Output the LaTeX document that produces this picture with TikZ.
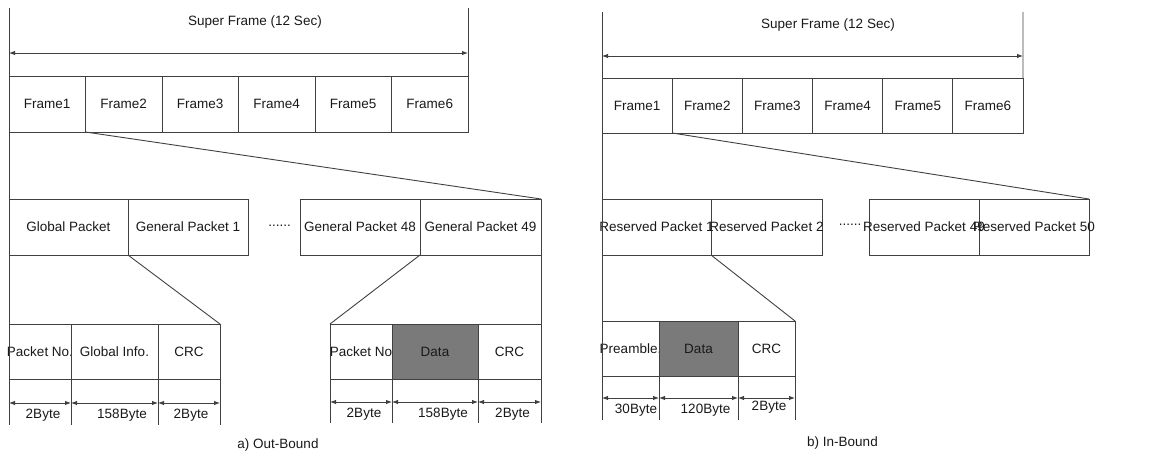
\documentclass[tikz,border=0pt]{standalone}
\usepackage{fontspec}
\setmainfont{Liberation Sans}
\usetikzlibrary{arrows.meta,calc}
\begin{document}
\begin{tikzpicture}[x=1pt,y=-1pt,
  ln/.style={draw=black!75, line width=0.9pt},
  cell/.style={ln, rectangle, inner sep=0pt, outer sep=0pt, font=\fontsize{13.5}{16}\selectfont, text=black!90},
  lbl/.style={inner sep=0pt, font=\fontsize{13.5}{16}\selectfont, text=black!90},
  dim/.style={ln, {Latex[length=6pt,width=4.5pt]}-{Latex[length=6pt,width=4.5pt]}},
  shaded/.style={fill=black!52}]
\useasboundingbox (0,0) rectangle (1149,452);

% ================= a) Out-Bound =================
\node[lbl] (sfa) at (255,22) {Super Frame (12 Sec)};
\foreach \i [evaluate=\i as \cx using {9+76.5*(\i-0.5)}] in {1,...,6}
  \node[cell, minimum width=76.5pt, minimum height=56pt] (fa\i) at (\cx,104) {Frame\i};
\coordinate (atl) at (9,8);
\coordinate (atr) at (468,8);
\draw[ln] (atr) -- (fa6.north east);
\draw[dim] ($(atl)+(0,45)$) -- ($(atr)+(0,45)$);

\node[cell, minimum width=119pt, minimum height=56pt] (gp) at (68.5,227) {Global Packet};
\node[cell, minimum width=120pt, minimum height=56pt] (gp1) at (188,227) {General Packet 1};
\node[lbl, anchor=base] (dotsa) at (279.5,226) {......};
\node[cell, minimum width=120pt, minimum height=56pt] (gp48) at (360,227) {\makebox[0pt]{General Packet 48}};
\node[cell, minimum width=121pt, minimum height=56pt] (gp49) at (480.5,227) {\makebox[0pt]{General Packet 49}};
\draw[ln] (fa2.south west) -- (gp49.north east);

\node[cell, minimum width=62pt, minimum height=55pt] (pna) at (40,351.5) {\makebox[0pt]{Packet No.}};
\node[cell, minimum width=87pt, minimum height=55pt] (gia) at (114.5,351.5) {Global Info.};
\node[cell, minimum width=62pt, minimum height=55pt] (crca) at (189,351.5) {CRC};
\coordinate (abot) at (9,425);
\draw[ln] (atl) -- (abot);
\draw[ln] (gp1.south west) -- (crca.north east);
\foreach \n in {pna,gia,crca} \draw[ln] (\n.south east) -- ++(0,46);
\draw[dim] ($(pna.south west)+(0,24)$) -- ($(pna.south east)+(0,24)$);
\draw[dim] ($(gia.south west)+(0,24)$) -- ($(gia.south east)+(0,24)$);
\draw[dim] ($(crca.south west)+(0,24)$) -- ($(crca.south east)+(0,24)$);
\node[lbl] (da1) at (43,415) {2Byte};
\node[lbl] (da2) at (122,415) {158Byte};
\node[lbl] (da3) at (191,415) {2Byte};

\node[cell, minimum width=62pt, minimum height=55pt] (pnb) at (361,351.5) {\makebox[0pt]{Packet No}};
\node[cell, shaded, minimum width=86pt, minimum height=55pt] (dab) at (435,351.5) {Data};
\node[cell, minimum width=63pt, minimum height=55pt] (crcb) at (509.5,351.5) {CRC};
\draw[ln] (gp48.south east) -- (pnb.north west);
\draw[ln] (gp49.south east) -- (crcb.north east);
\foreach \n in {pnb,dab,crcb} \draw[ln] (\n.south east) -- ++(0,44);
\draw[ln] (pnb.south west) -- ++(0,44);
\draw[dim] ($(pnb.south west)+(0,23)$) -- ($(pnb.south east)+(0,23)$);
\draw[dim] ($(dab.south west)+(0,23)$) -- ($(dab.south east)+(0,23)$);
\draw[dim] ($(crcb.south west)+(0,23)$) -- ($(crcb.south east)+(0,23)$);
\node[lbl] (db1) at (364,414) {2Byte};
\node[lbl] (db2) at (443,414) {158Byte};
\node[lbl] (db3) at (512.5,414) {2Byte};

\node[lbl, anchor=base] (capa) at (278,448) {a) Out-Bound};

% ================= b) In-Bound =================
\node[lbl] (sfb) at (828,25) {Super Frame (12 Sec)};
\foreach \i [evaluate=\i as \cx using {602+70.1667*(\i-0.5)}] in {1,...,6}
  \node[cell, minimum width=70.1667pt, minimum height=55pt] (fb\i) at (\cx,105.5) {Frame\i};
\coordinate (btl) at (602,12);
\coordinate (btr) at (1023,12);
\draw[ln] (btr) -- (fb6.north east);
\draw[dim] ($(btl)+(0,44)$) -- ($(btr)+(0,44)$);

\node[cell, minimum width=109pt, minimum height=56pt] (rp1) at (656.5,227) {\makebox[0pt]{Reserved Packet 1}};
\node[cell, minimum width=111pt, minimum height=56pt] (rp2) at (766.5,227) {\makebox[0pt]{Reserved Packet 2}};
\node[lbl, anchor=base] (dotsb) at (850,225) {......};
\node[cell, minimum width=110pt, minimum height=56pt] (rp49) at (924,227) {};
\node[cell, minimum width=110pt, minimum height=56pt] (rp50) at (1034,227) {};
\node[lbl] (rp49t) at (rp49.center) {Reserved Packet 49};
\node[lbl] (rp50t) at (rp50.center) {Reserved Packet 50};
\draw[ln] (fb2.south west) -- (rp50.north east);

\node[cell, minimum width=57pt, minimum height=55pt] (pre) at (630.5,348.5) {\makebox[0pt]{Preamble.}};
\node[cell, shaded, minimum width=79pt, minimum height=55pt] (dac) at (698.5,348.5) {Data};
\node[cell, minimum width=57pt, minimum height=55pt] (crcc) at (766.5,348.5) {CRC};
\coordinate (bbot) at (602,420);
\draw[ln] (btl) -- (bbot);
\draw[ln] (rp1.south east) -- (crcc.north east);
\foreach \n in {pre,dac,crcc} \draw[ln] (\n.south east) -- ++(0,44);
\draw[dim] ($(pre.south west)+(0,22)$) -- ($(pre.south east)+(0,22)$);
\draw[dim] ($(dac.south west)+(0,22)$) -- ($(dac.south east)+(0,22)$);
\draw[dim] ($(crcc.south west)+(0,22)$) -- ($(crcc.south east)+(0,22)$);
\node[lbl] (dc1) at (636,410) {30Byte};
\node[lbl] (dc2) at (705.5,410) {120Byte};
\node[lbl] (dc3) at (769,407) {2Byte};

\node[lbl, anchor=base] (capb) at (842.5,446) {b) In-Bound};
\end{tikzpicture}
\end{document}
